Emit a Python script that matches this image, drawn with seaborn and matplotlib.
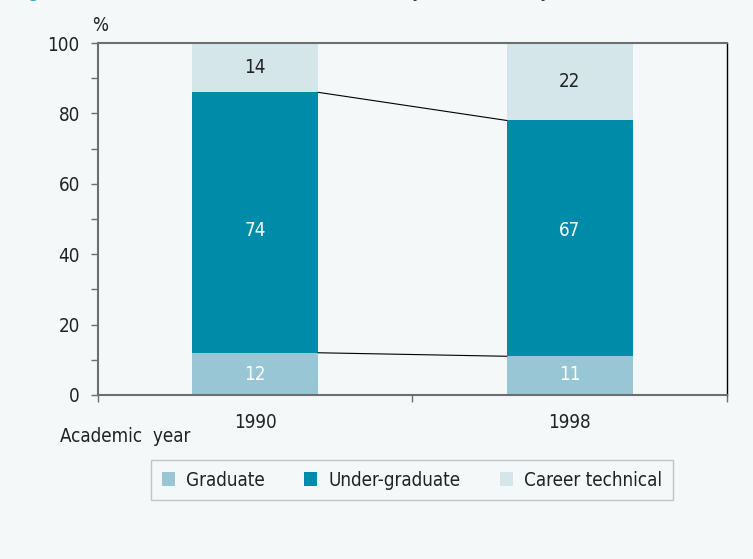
"""Stacked bar chart: students by level of study, 1990 vs 1998."""

import matplotlib
matplotlib.use("Agg")

import matplotlib.pyplot as plt
import numpy as np
import pandas as pd
import seaborn as sns
from matplotlib.patches import Patch
from matplotlib.ticker import MultipleLocator

# data
years = ["1990", "1998"]
graduate = [12, 11]
under_graduate = [74, 67]
career_technical = [14, 22]
series_names = ["Graduate", "Under-graduate", "Career technical"]

# style
colors = ["#98c6d5", "#008ba8", "#d5e6eb"]
label_colors = ["white", "white", "#222222"]
bg = "#f4f8f9"
spine_grey = "#6e6e6e"
fs = 13.5

sns.set_theme(style="ticks")
plt.rcParams["font.family"] = ["DejaVu Sans"]
plt.rcParams["font.stretch"] = "condensed"
plt.rcParams["font.size"] = fs

df = pd.DataFrame({
    "year": years,
    "Graduate": graduate,
    "Under-graduate": under_graduate,
    "Career technical": career_technical,
})
# cumulative tops for the stacked bars
df["top1"] = df["Graduate"]
df["top2"] = df["top1"] + df["Under-graduate"]
df["top3"] = df["top2"] + df["Career technical"]

fig = plt.figure(figsize=(7.53, 5.59), dpi=100, facecolor=bg)
ax = fig.add_axes([0.130, 0.2934, 0.8355, 0.6296])
ax.set_facecolor(bg)

# draw tallest first, then overlay lower segments
for col, color in zip(["top3", "top2", "top1"], colors[::-1]):
    sns.barplot(data=df, x="year", y=col, color=color, width=0.4,
                saturation=1, errorbar=None, linewidth=0, ax=ax)

# connector lines between the bars
half = 0.2
for col in ["top1", "top2"]:
    ax.plot([0 + half, 1 - half], df[col].values, color="black", lw=0.8)

# segment labels: lower two rows share one height, top row per bar
bottoms = np.vstack([np.zeros(len(years)), df["top1"], df["top2"]])
for k, (name, tc) in enumerate(zip(series_names, label_colors)):
    mids = bottoms[k] + df[name].values / 2
    for i in range(len(years)):
        y = mids.mean() if k < 2 else mids[i]
        ax.text(i, y, f"{df[name].iloc[i]}", ha="center", va="center",
                color=tc, fontsize=fs)

ax.set_xlim(-0.5, 1.5)
ax.set_ylim(0, 100)
ax.yaxis.set_major_locator(MultipleLocator(20))
ax.yaxis.set_minor_locator(MultipleLocator(10))
ax.set_xticks([-0.5, 0.5, 1.5])
ax.set_xticklabels(["", "", ""])
ax.set_xticks([0, 1], minor=True)
ax.set_xticklabels(years, minor=True)
ax.set_xlabel("")
ax.set_ylabel("")

ax.tick_params(axis="both", which="both", direction="out", length=5,
               width=1, color=spine_grey, labelcolor="#222222", labelsize=fs)
ax.tick_params(axis="x", which="minor", length=0, pad=13)
ax.tick_params(axis="y", which="major", pad=8)

for side in ["left", "bottom", "top"]:
    ax.spines[side].set_color(spine_grey)
    ax.spines[side].set_linewidth(1.5)
ax.spines["right"].set_color("black")
ax.spines["right"].set_linewidth(1)

fig.text(0.122, 0.955, "%", fontsize=fs, color="#222222", ha="left", va="center")
fig.text(60 / 753, 1 - 436 / 559, "Academic  year", fontsize=fs,
         color="#222222", ha="left", va="center")

# title, cut off by the top edge as in the source
fig.text(14 / 753, 1.006, "Figure 3.1", color="#2aa3c4", fontsize=14.5,
         ha="left", va="baseline")
fig.text(115 / 753, 1.006, "Structure of student enrolment by level of study, 1990 and 1998",
         color="#333333", fontsize=14.5, ha="left", va="baseline")

handles = [Patch(facecolor=c, edgecolor="none", label=n)
           for c, n in zip(colors, series_names)]
leg = fig.legend(handles=handles, ncol=3, loc="center",
                 bbox_to_anchor=(412 / 753, 1 - 480 / 559),
                 frameon=True, fancybox=False, edgecolor="#c4c4c4",
                 facecolor=bg, framealpha=1, fontsize=fs,
                 handlelength=0.7, handleheight=0.7, handletextpad=0.6,
                 columnspacing=2.1, borderpad=0.55)
leg.get_frame().set_linewidth(1)
for t in leg.get_texts():
    t.set_color("#222222")

fig.savefig("out.png", dpi=100, facecolor=bg)
